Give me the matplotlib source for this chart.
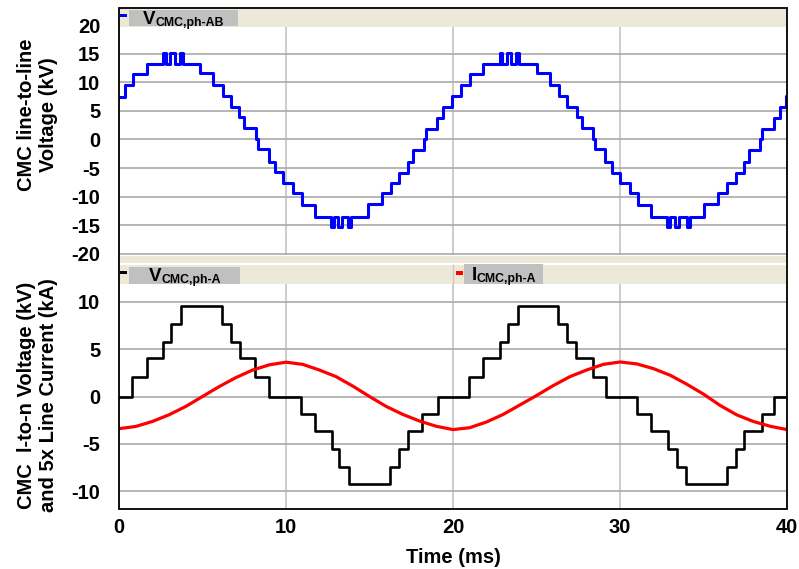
"""
Cascaded multilevel converter waveforms: line-to-line voltage on top,
phase voltage and scaled line current below.
"""

from matplotlib import pyplot as plt
from matplotlib.patches import Rectangle

plt.rcParams["font.family"] = ["Liberation Sans", "DejaVu Sans"]
plt.rcParams["font.weight"] = "bold"
plt.rcParams["axes.labelweight"] = "bold"
plt.rcParams["axes.unicode_minus"] = False

W, H = 799, 569

# line-to-line voltage (kV), switching instants (ms) and level held after each
vab_time = [
    0.0, 0.36, 0.86, 1.66, 2.61, 2.79, 3.05, 3.35, 3.65, 3.85, 4.85, 5.6, 6.2,
    6.7, 7.2, 7.5, 8.2, 8.3, 9.0, 9.35, 9.85, 10.4, 10.94, 11.74, 12.68, 12.87,
    13.13, 13.33, 13.69, 13.89, 14.93, 15.73, 16.29, 16.78, 17.28, 17.62, 18.26,
    18.4, 19.06, 19.42, 19.92, 20.5, 21.0, 21.8, 22.8, 22.95, 23.23, 23.5, 23.8,
    23.95, 25.0, 25.8, 26.33, 26.85, 27.4, 27.7, 28.4, 28.5, 29.1, 29.5, 30.0,
    30.6, 31.1, 31.86, 32.8, 33.0, 33.3, 33.55, 34.0, 34.2, 35.05, 35.85, 36.4,
    36.95, 37.45, 37.75, 38.4, 38.5, 39.2, 39.6, 39.95, 40.0,
]
vab_level = [
    7.5, 9.5, 11.45, 13.2, 15.2, 13.2, 15.2, 13.2, 15.2, 13.2, 11.55, 9.6, 7.6,
    5.7, 4.0, 1.95, 0.0, -1.7, -3.9, -5.7, -7.55, -9.4, -11.45, -13.5, -15.35,
    -13.5, -15.35, -13.5, -15.35, -13.5, -11.3, -9.4, -7.65, -5.9, -3.9, -1.85,
    0.0, 1.8, 3.8, 5.7, 7.6, 9.5, 11.45, 13.2, 15.2, 13.2, 15.2, 13.2, 15.2,
    13.2, 11.55, 9.6, 7.6, 5.7, 3.9, 1.95, 0.0, -1.7, -3.9, -5.8, -7.6,
    -9.4, -11.45, -13.5, -15.35, -13.5, -15.35, -13.5, -15.35, -13.5, -11.3,
    -9.4, -7.6, -5.9, -3.9, -1.85, 0.0, 1.8, 3.8, 5.7, 7.6, 7.6,
]

# phase A line-to-neutral voltage (kV)
va_time = [
    0.0, 0.8, 1.66, 2.65, 3.13, 3.71, 6.15, 6.71, 7.25, 8.14, 8.98, 10.9, 11.74,
    12.74, 13.17, 13.77, 16.23, 16.77, 17.29, 18.16, 19.08, 20.98, 21.78, 22.81,
    23.31, 23.87, 26.3, 26.85, 27.37, 28.37, 29.16, 31.04, 31.86, 32.89, 33.4,
    33.95, 36.39, 36.95, 37.43, 38.48, 39.22, 40.0,
]
va_level = [
    0.0, 2.1, 4.05, 5.8, 7.65, 9.6, 7.65, 5.8, 4.05, 2.1, 0.0, -1.9, -3.7,
    -5.6, -7.5, -9.3, -7.5, -5.6, -3.7, -1.9, 0.0, 2.1, 4.05, 5.8,
    7.65, 9.6, 7.65, 5.8, 4.05, 2.1, 0.0, -1.9, -3.7, -5.6, -7.5,
    -9.3, -7.5, -5.6, -3.7, -1.9, 0.0, 0.0,
]

# phase A line current x5 (kA), sampled every ms
ia_time = list(range(0, 41))
ia_value = [
    -3.4, -3.17, -2.64, -1.93, -1.05, 0.0, 1.05, 2.0, 2.8, 3.35, 3.63,
    3.4, 2.8, 2.1, 1.1, 0.0, -1.05, -1.9, -2.6, -3.15, -3.5,
    -3.3, -2.7, -1.9, -0.9, 0.1, 1.15, 2.1, 2.8, 3.4, 3.65,
    3.45, 2.95, 2.25, 1.3, 0.25, -0.95, -1.95, -2.65, -3.15, -3.5,
]

BEIGE = "#ECE9D8"
LABEL_GRAY = "#C0C0C0"


def fx(px):
    return px / W


def fy(py):
    return 1 - py / H


def add_rect(fig, x0, y0, x1, y1, **kwargs):
    """Rectangle given in pixel coordinates (y measured from the top)."""
    fig.add_artist(Rectangle((fx(x0), fy(y1)), fx(x1) - fx(x0), fy(y0) - fy(y1),
                             transform=fig.transFigure, **kwargs))


def add_label(fig, x_marker, y_marker, color, box, main, sub, x_main, base_main,
              base_sub, main_width):
    """Legend entry: small coloured marker plus a gray box with subscripted name."""
    add_rect(fig, x_marker, y_marker - 1.7, x_marker + 6.5, y_marker + 1.7,
             facecolor=color, edgecolor="none", zorder=5)
    add_rect(fig, *box, facecolor=LABEL_GRAY, edgecolor="none", zorder=5)
    fig.text(fx(x_main), fy(base_main), main, fontsize=13.5, va="baseline",
             ha="left", zorder=6)
    fig.text(fx(x_main + main_width), fy(base_sub), sub, fontsize=8.8,
             va="baseline", ha="left", zorder=6)


def style_axes(ax, yticks):
    for spine in ax.spines.values():
        spine.set_visible(False)
    ax.set_xlim(0, 40)
    ax.set_xticks([0, 10, 20, 30, 40])
    ax.set_yticks(yticks)
    ax.tick_params(length=0, labelsize=14.5)
    ax.tick_params(axis="y", pad=13.5)
    ax.tick_params(axis="x", pad=6.5)
    ax.grid(axis="y", color="#A9A9A9", linewidth=1.2)
    ax.grid(axis="x", color="#C4C4C4", linewidth=1.2)
    ax.set_axisbelow(True)


fig = plt.figure(figsize=(W / 100, H / 100), dpi=100)

ax_top = fig.add_axes([fx(119), fy(255), fx(787) - fx(119), fy(24.8) - fy(255)])
ax_bot = fig.add_axes([fx(119), fy(509), fx(787) - fx(119), fy(284) - fy(509)])

style_axes(ax_top, [-20, -15, -10, -5, 0, 5, 10, 15, 20])
ax_top.set_ylim(-20.2, 20.05)
ax_top.tick_params(axis="x", labelbottom=False)
ax_top.step(vab_time, vab_level, where="post", color="#0000FF", linewidth=2.2)

style_axes(ax_bot, [-10, -5, 0, 5, 10])
ax_bot.set_ylim(-11.9, 11.9)
ax_bot.step(va_time, va_level, where="post", color="black", linewidth=1.9)
ax_bot.plot(ia_time, ia_value, color="#FF0000", linewidth=2.3)
ax_bot.set_xlabel("Time (ms)", fontsize=14.5, fontweight="bold", labelpad=8)

# beige legend bands
add_rect(fig, 119, 8, 787, 26.5, facecolor=BEIGE, edgecolor="none", zorder=4)
add_rect(fig, 119, 255.5, 787, 263, facecolor=BEIGE, edgecolor="none", zorder=4)
add_rect(fig, 119, 265, 787, 284, facecolor=BEIGE, edgecolor="none", zorder=4)
fig.add_artist(plt.Line2D([fx(453), fx(453)], [fy(265), fy(284)], color="#C8C8C8",
                          linewidth=1, transform=fig.transFigure, zorder=4))

add_label(fig, 120, 15.5, "#0000FF", (129, 10, 238, 26), "V", "CMC,ph-AB",
          143, 24, 26, 12.5)
add_label(fig, 120, 272.5, "black", (129, 267, 240, 284), "V", "CMC,ph-A",
          149, 281, 283, 12.5)
add_label(fig, 456, 273, "#FF0000", (464, 264, 543, 283.5), "I", "CMC,ph-A",
          472, 280, 282.3, 4.8)

# outer frame
add_rect(fig, 119, 8, 787, 509, facecolor="none", edgecolor="black",
         linewidth=1.3, zorder=7)

fig.text(fx(37.5), fy(115), "CMC line-to-line\nVoltage (kV)", rotation=90,
         ha="center", va="center", multialignment="center", fontsize=14.5,
         fontweight="bold", linespacing=1.22)
fig.text(fx(37.5), fy(395), "CMC  l-to-n Voltage (kV)\nand 5x Line Current (kA)",
         rotation=90, ha="center", va="center", multialignment="center",
         fontsize=14.5, fontweight="bold", linespacing=1.22)

fig.savefig("out.png", dpi=100)
